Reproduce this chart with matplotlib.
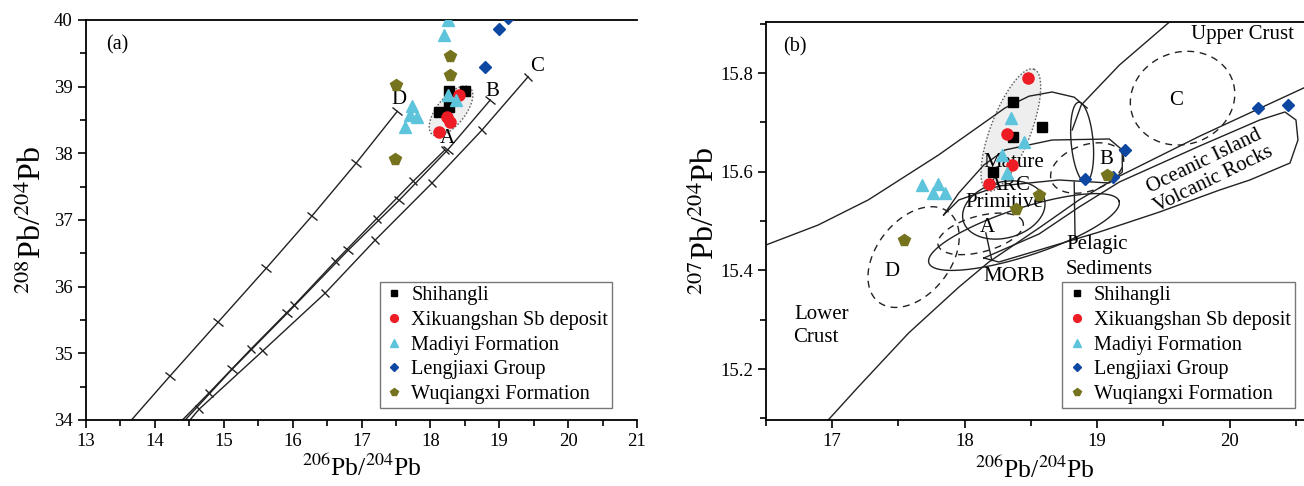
import numpy as np
import matplotlib
matplotlib.use("Agg")
import matplotlib.pyplot as plt
from matplotlib.markers import MarkerStyle
from matplotlib.transforms import Affine2D

plt.rcParams['font.family'] = ['Liberation Serif', 'DejaVu Serif']
plt.rcParams['mathtext.fontset'] = 'stix'

# ---------------- data: panel (a) 206Pb/204Pb vs 208Pb/204Pb ----------------
a_shihangli_x = [18.27, 18.50, 18.13, 18.27]
a_shihangli_y = [38.94, 38.94, 38.62, 38.69]
a_xks_x = [18.41, 18.24, 18.285, 18.12]
a_xks_y = [38.875, 38.55, 38.475, 38.325]
a_madiyi_x = [18.25, 18.20, 18.26, 18.37, 17.74, 17.70, 17.80, 17.63]
a_madiyi_y = [40.00, 39.77, 38.875, 38.80, 38.71, 38.575, 38.55, 38.39]
a_leng_x = [19.00, 18.79, 19.12]
a_leng_y = [39.86, 39.30, 40.03]
a_wuq_x = [18.285, 18.285, 17.50, 17.49]
a_wuq_y = [39.46, 39.175, 39.02, 37.91]

# growth curves (tick points) panel (a)
curveD_x = [13.66, 14.22, 14.92, 15.62, 16.28, 16.92, 17.52]
curveD_y = [34.00, 34.66, 35.47, 36.28, 37.06, 37.85, 38.63]
curveA_x = [14.40, 14.78, 15.40, 16.02, 16.62, 17.22, 17.75, 18.21]
curveA_y = [34.00, 34.40, 35.07, 35.72, 36.38, 37.02, 37.58, 38.05]
curveB_x = [14.44, 15.12, 15.92, 16.81, 17.55, 18.25, 18.87]
curveB_y = [34.00, 34.76, 35.60, 36.55, 37.30, 38.05, 38.80]
curveC_x = [14.51, 14.64, 15.57, 16.47, 17.20, 18.02, 18.75, 19.42]
curveC_y = [34.00, 34.16, 35.04, 35.90, 36.70, 37.55, 38.35, 39.15]

# ---------------- data: panel (b) 206Pb/204Pb vs 207Pb/204Pb ----------------
b_shihangli_x = [18.366, 18.586, 18.366, 18.21]
b_shihangli_y = [15.742, 15.691, 15.671, 15.600]
b_xks_x = [18.48, 18.32, 18.36, 18.18]
b_xks_y = [15.790, 15.676, 15.614, 15.575]
b_madiyi_x = [18.35, 18.45, 18.28, 18.32, 17.68, 17.80, 17.76, 17.85]
b_madiyi_y = [15.708, 15.661, 15.634, 15.597, 15.573, 15.576, 15.556, 15.556]
b_leng_x = [19.21, 18.91, 19.12, 20.215, 20.44]
b_leng_y = [15.643, 15.585, 15.589, 15.730, 15.735]
b_wuq_x = [17.54, 18.56, 18.385, 19.07]
b_wuq_y = [15.462, 15.553, 15.524, 15.593]

# field boundaries panel (b)
upper_line_x = [16.500, 16.894, 17.273, 17.803, 18.303, 18.485, 18.659, 18.826, 18.924]
upper_line_y = [15.4515, 15.492, 15.543, 15.634, 15.729, 15.753, 15.7615, 15.751, 15.729]
crust_line_x = [19.545, 19.167, 18.879, 18.811]
crust_line_y = [15.9033, 15.816, 15.735, 15.6845]
long_line_x = [16.970, 17.197, 17.576, 17.955, 18.182, 18.561, 18.864, 19.167, 19.773, 20.561]
long_line_y = [15.097, 15.164, 15.273, 15.366, 15.417, 15.486, 15.543, 15.591, 15.672, 15.770]
oib_x = [18.144, 18.561, 18.864, 19.167, 19.773, 20.227, 20.417, 20.500, 20.515, 20.455,
         20.152, 19.924, 19.470, 19.015, 18.561, 18.258, 18.144]
oib_y = [15.4251, 15.4738, 15.5285, 15.5791, 15.6521, 15.7048, 15.7210, 15.7048, 15.6642, 15.6176,
         15.5832, 15.5629, 15.5183, 15.4778, 15.4413, 15.4170, 15.4251]
arc_x = [17.841, 17.955, 18.144, 18.303, 18.659, 19.091, 19.189, 19.189, 19.091, 18.712, 18.258, 17.955, 17.841]
arc_y = [15.5123, 15.5568, 15.6136, 15.644, 15.6642, 15.6663, 15.644, 15.5994, 15.5771, 15.5832, 15.571, 15.5427, 15.5123]
pointer_pel_x = [18.826, 18.833]
pointer_pel_y = [15.579, 15.462]
pointer_morb_x = [18.159, 18.205]
pointer_morb_y = [15.476, 15.420]

series = [
    ("Shihangli", 's', 'black', 7),
    ("Xikuangshan Sb deposit", 'o', '#ee1c24', 8),
    ("Madiyi Formation", '^', '#5ec4dc', 8.5),
    ("Lengjiaxi Group", 'D', '#0d47a1', 6.5),
    ("Wuqiangxi Formation", 'p', '#76731f', 8.5),
]
a_sets = [(a_shihangli_x, a_shihangli_y), (a_xks_x, a_xks_y), (a_madiyi_x, a_madiyi_y),
          (a_leng_x, a_leng_y), (a_wuq_x, a_wuq_y)]
b_sets = [(b_shihangli_x, b_shihangli_y), (b_xks_x, b_xks_y), (b_madiyi_x, b_madiyi_y),
          (b_leng_x, b_leng_y), (b_wuq_x, b_wuq_y)]

fig = plt.figure(figsize=(13.04, 4.86), dpi=100)
axa = fig.add_axes([86/1304, 1-420/486, (637-86)/1304, 400/486])
axb = fig.add_axes([766/1304, 1-420/486, (1304-766)/1304, 398/486])

axa.set_xlim(13, 21)
axa.set_ylim(34, 40)
axb.set_xlim(16.5, 16.5 + (1304-768)/132)
axb.set_ylim(15.8 - (420-73)/493.5, 15.8 + (73-22)/493.5)

for ax in (axa, axb):
    ax.spines['right'].set_visible(False)
    for s in ('left', 'bottom', 'top'):
        ax.spines[s].set_linewidth(1.3)
    ax.tick_params(which='both', direction='out', top=False, right=False, labelsize=13.5, width=1.2)
    ax.tick_params(which='major', length=6)
    ax.tick_params(which='minor', length=4)

axa.set_xticks(np.arange(13, 22, 1))
axa.set_xticks(np.arange(13.5, 21, 1), minor=True)
axa.set_yticks(np.arange(34, 41, 1))
axa.set_yticks(np.arange(34.5, 40, 1), minor=True)
axb.set_xticks([17, 18, 19, 20])
axb.set_xticks([16.5, 17.5, 18.5, 19.5, 20.5], minor=True)
axb.set_yticks([15.2, 15.4, 15.6, 15.8])
axb.set_yticks([15.1, 15.3, 15.5, 15.7, 15.9], minor=True)
axb.set_yticklabels(['15.2', '15.4', '15.6', '15.8'])

axa.set_xlabel(r'$^{206}$Pb/$^{204}$Pb', fontsize=18.5, labelpad=3)
axa.set_ylabel(r'$^{208}$Pb/$^{204}$Pb', fontsize=23, labelpad=4)
axb.set_xlabel(r'$^{206}$Pb/$^{204}$Pb', fontsize=18.5, labelpad=5)
axb.set_ylabel(r'$^{207}$Pb/$^{204}$Pb', fontsize=23, labelpad=-1)

fig.canvas.draw()

LC = '#222222'


def disp_angle(ax, x0, y0, x1, y1):
    p0 = ax.transData.transform((x0, y0))
    p1 = ax.transData.transform((x1, y1))
    return np.degrees(np.arctan2(p1[1]-p0[1], p1[0]-p0[0]))


def draw_curve(ax, xs, ys):
    ax.plot(xs, ys, color=LC, lw=1.0, zorder=2)
    ang = disp_angle(ax, xs[0], ys[0], xs[-1], ys[-1])
    m = MarkerStyle('_', transform=Affine2D().rotate_deg(ang + 90))
    ax.plot(xs[1:], ys[1:], ls='none', marker=m, ms=9, mew=1.0, color=LC, zorder=2)


def ellipse_pts(ax, cx, cy, a_px, b_px, ang_deg, n=200):
    c = ax.transData.transform((cx, cy))
    t = np.linspace(0, 2*np.pi, n)
    th = np.radians(ang_deg)
    X = a_px*np.cos(t)*np.cos(th) - b_px*np.sin(t)*np.sin(th) + c[0]
    Y = a_px*np.cos(t)*np.sin(th) + b_px*np.sin(t)*np.cos(th) + c[1]
    d = ax.transData.inverted().transform(np.column_stack([X, Y]))
    return d[:, 0], d[:, 1]


# ---- panel (a) ----
for xs, ys in [(curveD_x, curveD_y), (curveA_x, curveA_y), (curveB_x, curveB_y), (curveC_x, curveC_y)]:
    draw_curve(axa, xs, ys)

ex, ey = ellipse_pts(axa, 18.30, 38.635, 30, 14, 51)
axa.fill(ex, ey, color='#eeeeee', zorder=1)
axa.plot(ex, ey, color='#555555', ls=(0, (1, 1.5)), lw=1.0, zorder=1.5)

for (name, mk, col, ms), (xs, ys) in zip(series, a_sets):
    axa.plot(xs, ys, ls='none', marker=mk, color=col, ms=ms, mec=col, label=name, zorder=4)

fsl = 15
axa.text(13.29, 39.62, '(a)', fontsize=14.5, va='center')
axa.text(17.545, 38.8, 'D', fontsize=fsl, ha='center', va='center')
axa.text(18.24, 38.23, 'A', fontsize=fsl, ha='center', va='center')
axa.text(18.895, 38.92, 'B', fontsize=fsl, ha='center', va='center')
axa.text(19.55, 39.295, 'C', fontsize=fsl, ha='center', va='center')

leg_kw = dict(loc='lower right', fontsize=14.6, frameon=True, fancybox=False, edgecolor='#555555',
              handletextpad=0.35, handlelength=1.0, borderpad=0.2, labelspacing=0.27,
              markerscale=0.7, borderaxespad=0.0)
leg = axa.legend(bbox_to_anchor=(0.955, 0.03), **leg_kw)
leg.get_frame().set_linewidth(1.0)

# ---- panel (b) ----
for xs, ys in [(upper_line_x, upper_line_y), (crust_line_x, crust_line_y), (long_line_x, long_line_y),
               (oib_x, oib_y), (arc_x, arc_y), (pointer_pel_x, pointer_pel_y), (pointer_morb_x, pointer_morb_y)]:
    axb.plot(xs, ys, color=LC, lw=1.0, zorder=2)

# pelagic sediments, primitive arc and MORB envelopes
for (cx, cy, a, b, ang) in [(18.886, 15.660, 40, 11, 95), (18.295, 15.5224, 42, 28, 15),
                            (18.447, 15.4778, 100, 24, 18)]:
    ex, ey = ellipse_pts(axb, cx, cy, a, b, ang)
    axb.plot(ex, ey, color=LC, lw=1.0, zorder=2)

ex, ey = ellipse_pts(axb, 18.348, 15.6845, 65, 20, 69)
axb.fill(ex, ey, color='#eeeeee', zorder=1)
axb.plot(ex, ey, color='#555555', ls=(0, (1, 1.5)), lw=1.0, zorder=1.5)

# dashed Zartman & Doe fields A-D
for (cx, cy, a, b, ang) in [(19.644, 15.749, 53, 46, 20), (17.614, 15.427, 57, 37, 52),
                            (18.12, 15.474, 44, 18, 15), (18.924, 15.6075, 38, 23, 20)]:
    ex, ey = ellipse_pts(axb, cx, cy, a, b, ang)
    axb.plot(ex, ey, color=LC, ls=(0, (5, 4)), lw=1.0, zorder=2)

for (name, mk, col, ms), (xs, ys) in zip(series, b_sets):
    axb.plot(xs, ys, ls='none', marker=mk, color=col, ms=ms, mec=col, label=name, zorder=4)

fs = 15
axb.text(16.63, 15.853, '(b)', fontsize=14.5, va='center')
axb.text(20.10, 15.879, 'Upper Crust', fontsize=fs, ha='center', va='center')
axb.text(19.598, 15.745, 'C', fontsize=fs, ha='center', va='center')
axb.text(19.068, 15.624, 'B', fontsize=fs, ha='center', va='center')
axb.text(18.371, 15.618, 'Mature', fontsize=fs, ha='center', va='center')
axb.text(18.333, 15.573, 'ARC', fontsize=fs, ha='center', va='center')
axb.text(18.295, 15.537, 'Primitive', fontsize=fs, ha='center', va='center')
axb.text(18.167, 15.486, 'A', fontsize=fs, ha='center', va='center')
axb.text(17.447, 15.397, 'D', fontsize=fs, ha='center', va='center')
axb.text(18.371, 15.387, 'MORB', fontsize=fs, ha='center', va='center')
axb.text(19.0, 15.4515, 'Pelagic', fontsize=fs, ha='center', va='center')
axb.text(19.091, 15.401, 'Sediments', fontsize=fs, ha='center', va='center')
axb.text(16.917, 15.310, 'Lower', fontsize=fs, ha='center', va='center')
axb.text(16.879, 15.265, 'Crust', fontsize=fs, ha='center', va='center')
axb.text(19.81, 15.620, 'Oceanic Island', fontsize=fs, ha='center', va='center', rotation=26)
axb.text(19.88, 15.584, 'Volcanic Rocks', fontsize=fs, ha='center', va='center', rotation=26)

leg = axb.legend(bbox_to_anchor=(0.983, 0.03), **leg_kw)
leg.get_frame().set_linewidth(1.0)

fig.savefig('out.png', dpi=100)
